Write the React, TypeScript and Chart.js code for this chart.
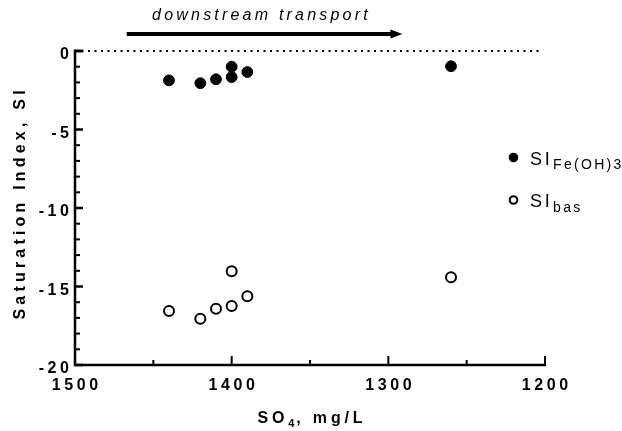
import React, { useEffect, useRef } from "react";
import { Chart, registerables } from "chart.js";

Chart.register(...registerables);

// ---- data ----
const so4Fe = [1440, 1420, 1410, 1400, 1400, 1390, 1260];
const siFe = [-1.87, -2.05, -1.8, -1.0, -1.66, -1.34, -0.97];
const so4Bas = [1440, 1420, 1410, 1400, 1400, 1390, 1260];
const siBas = [-16.56, -17.05, -16.41, -14.03, -16.24, -15.62, -14.41];

const xMajorTicks = [1500, 1400, 1300, 1200];
const xMinorTicks = [1450, 1350, 1250];
const yMajorTicks = [0, -5, -10, -15, -20];
const yMinorTicks = [-1, -2, -3, -4, -6, -7, -8, -9, -11, -12, -13, -14, -16, -17, -18, -19];

const seriesMain = ["SI", "SI"];
const seriesSub = ["Fe(OH)3", "bas"];
const xTitleParts = ["SO", "4", ", mg/L"];
const yTitle = "Saturation Index, SI";
const arrowLabel = "downstream transport";
const arrowRange = [1467, 1291];
const arrowLabelAt = 1382;
const zeroLineRange = [1500, 1203];

const FONT = '"Liberation Sans", Arial, sans-serif';

function spacedWidth(ctx: CanvasRenderingContext2D, text: string, sp: number) {
  let w = 0;
  const chars = Array.from(text);
  for (const ch of chars) w += ctx.measureText(ch).width;
  return w + sp * (chars.length - 1);
}

function drawSpaced(
  ctx: CanvasRenderingContext2D,
  text: string,
  x: number,
  y: number,
  sp: number,
  align: "left" | "center" | "right"
) {
  const w = spacedWidth(ctx, text, sp);
  let cx = align === "center" ? x - w / 2 : align === "right" ? x - w : x;
  ctx.textAlign = "left";
  for (const ch of Array.from(text)) {
    ctx.fillText(ch, cx, y);
    cx += ctx.measureText(ch).width + sp;
  }
  return cx;
}

const decorPlugin = {
  id: "decor",
  afterDraw(chart: any) {
    const ctx: CanvasRenderingContext2D = chart.ctx;
    const xs = chart.scales.x;
    const ys = chart.scales.y;
    const area = chart.chartArea;
    const axX = xs.getPixelForValue(1500);
    const axY = ys.getPixelForValue(-20);
    const yTop = ys.getPixelForValue(0);
    const xRight = xs.getPixelForValue(1200);

    ctx.save();
    ctx.strokeStyle = "#000";
    ctx.fillStyle = "#000";
    ctx.lineCap = "butt";

    // axis lines
    ctx.lineWidth = 2.5;
    ctx.beginPath();
    ctx.moveTo(axX, yTop - 1.5);
    ctx.lineTo(axX, axY + 1.25);
    ctx.moveTo(axX - 1.25, axY);
    ctx.lineTo(xRight + 1, axY);
    ctx.stroke();

    // y ticks (inside)
    ctx.lineWidth = 2.5;
    for (const v of yMajorTicks) {
      const p = ys.getPixelForValue(v);
      ctx.lineWidth = v === 0 ? 3 : 2.5;
      ctx.beginPath();
      ctx.moveTo(axX, p);
      ctx.lineTo(axX + 8, p);
      ctx.stroke();
    }
    ctx.lineWidth = 2;
    for (const v of yMinorTicks) {
      const p = ys.getPixelForValue(v);
      ctx.beginPath();
      ctx.moveTo(axX, p);
      ctx.lineTo(axX + 5, p);
      ctx.stroke();
    }
    // x ticks (inside)
    ctx.lineWidth = 2;
    for (const v of xMajorTicks) {
      const p = xs.getPixelForValue(v);
      ctx.beginPath();
      ctx.moveTo(p, axY);
      ctx.lineTo(p, axY - 9);
      ctx.stroke();
    }
    for (const v of xMinorTicks) {
      const p = xs.getPixelForValue(v);
      ctx.beginPath();
      ctx.moveTo(p, axY);
      ctx.lineTo(p, axY - 5);
      ctx.stroke();
    }

    // tick labels
    ctx.font = `bold 16px ${FONT}`;
    ctx.textBaseline = "alphabetic";
    for (const v of yMajorTicks) {
      const p = ys.getPixelForValue(v);
      drawSpaced(ctx, String(v), axX - 6, p + 8, 3.6, "right");
    }
    for (const v of xMajorTicks) {
      const p = xs.getPixelForValue(v);
      drawSpaced(ctx, String(v), p, axY + 25, 3.6, "center");
    }

    // x title: SO4, mg/L
    {
      const cxm = (area.left + area.right) / 2;
      ctx.font = `bold 16px ${FONT}`;
      const w1 = spacedWidth(ctx, xTitleParts[0], 3.8);
      const w3 = spacedWidth(ctx, xTitleParts[2], 3.8);
      ctx.font = `bold 11px ${FONT}`;
      const w2 = spacedWidth(ctx, xTitleParts[1], 2);
      const total = w1 + 3.8 + w2 + 2 + w3;
      let x = cxm - total / 2;
      ctx.font = `bold 16px ${FONT}`;
      x = drawSpaced(ctx, xTitleParts[0], x, 423, 3.8, "left");
      ctx.font = `bold 11px ${FONT}`;
      x = drawSpaced(ctx, xTitleParts[1], x, 427, 2, "left");
      ctx.font = `bold 16px ${FONT}`;
      drawSpaced(ctx, xTitleParts[2], x, 423, 3.8, "left");
    }

    // y title
    ctx.save();
    ctx.translate(25, 205);
    ctx.rotate(-Math.PI / 2);
    ctx.font = `bold 16px ${FONT}`;
    drawSpaced(ctx, yTitle, 0, 0, 4.2, "center");
    ctx.restore();

    // arrow + label
    {
      const x0 = xs.getPixelForValue(arrowRange[0]);
      const x1 = xs.getPixelForValue(arrowRange[1]);
      const ya = yTop - 17;
      ctx.lineWidth = 4;
      ctx.beginPath();
      ctx.moveTo(x0, ya);
      ctx.lineTo(x1 - 10, ya);
      ctx.stroke();
      ctx.beginPath();
      ctx.moveTo(x1, ya);
      ctx.lineTo(x1 - 12, ya - 4.5);
      ctx.lineTo(x1 - 12, ya + 4.5);
      ctx.closePath();
      ctx.fill();
      ctx.font = `italic 16px ${FONT}`;
      drawSpaced(ctx, arrowLabel, xs.getPixelForValue(arrowLabelAt), 20, 3.2, "center");
    }

    // legend
    const rows = [157.5, 200];
    for (let i = 0; i < 2; i++) {
      const my = rows[i];
      ctx.beginPath();
      if (i === 0) {
        ctx.arc(513.5, my, 4.8, 0, Math.PI * 2);
        ctx.fill();
      } else {
        ctx.lineWidth = 2;
        ctx.arc(513.5, my, 3.8, 0, Math.PI * 2);
        ctx.stroke();
      }
      ctx.font = `18px ${FONT}`;
      let x = drawSpaced(ctx, seriesMain[i], 530, my + 7, 2.8, "left");
      ctx.font = `14px ${FONT}`;
      drawSpaced(ctx, seriesSub[i], x + 0.5, my + 11.5, 2.3, "left");
    }

    ctx.restore();
  },
};

export default function App() {
  const ref = useRef<HTMLCanvasElement | null>(null);

  useEffect(() => {
    if (!ref.current) return;
    const chart = new Chart(ref.current, {
      type: "scatter",
      data: {
        datasets: [
          {
            type: "line",
            label: "zero",
            data: zeroLineRange.map((x) => ({ x, y: 0 })),
            borderColor: "#000",
            borderWidth: 2,
            borderDash: [2, 4.5],
            pointRadius: 0,
            fill: false,
            clip: false as any,
          } as any,
          {
            label: "SI Fe(OH)3",
            data: so4Fe.map((x, i) => ({ x, y: siFe[i] })),
            backgroundColor: "#000",
            borderColor: "#000",
            pointRadius: 5.4,
            pointBorderWidth: 1,
            pointHoverRadius: 5.4,
          },
          {
            label: "SI bas",
            data: so4Bas.map((x, i) => ({ x, y: siBas[i] })),
            backgroundColor: "rgba(0,0,0,0)",
            borderColor: "#000",
            pointRadius: 5,
            pointBorderWidth: 2,
            pointHoverRadius: 5,
          },
        ],
      },
      options: {
        animation: false,
        responsive: false,
        events: [],
        layout: { padding: { left: 75, right: 77, top: 51, bottom: 66 } },
        plugins: {
          legend: { display: false },
          tooltip: { enabled: false },
        },
        scales: {
          x: { type: "linear", min: 1200, max: 1500, reverse: true, display: false },
          y: { type: "linear", min: -20, max: 0, display: false },
        },
      },
      plugins: [decorPlugin],
    });
    return () => chart.destroy();
  }, []);

  return (
    <div style={{ position: "absolute", left: 0, top: 0, width: 622, height: 431, background: "#fff" }}>
      <canvas ref={ref} width={622} height={431} style={{ width: 622, height: 431, display: "block" }} />
    </div>
  );
}
